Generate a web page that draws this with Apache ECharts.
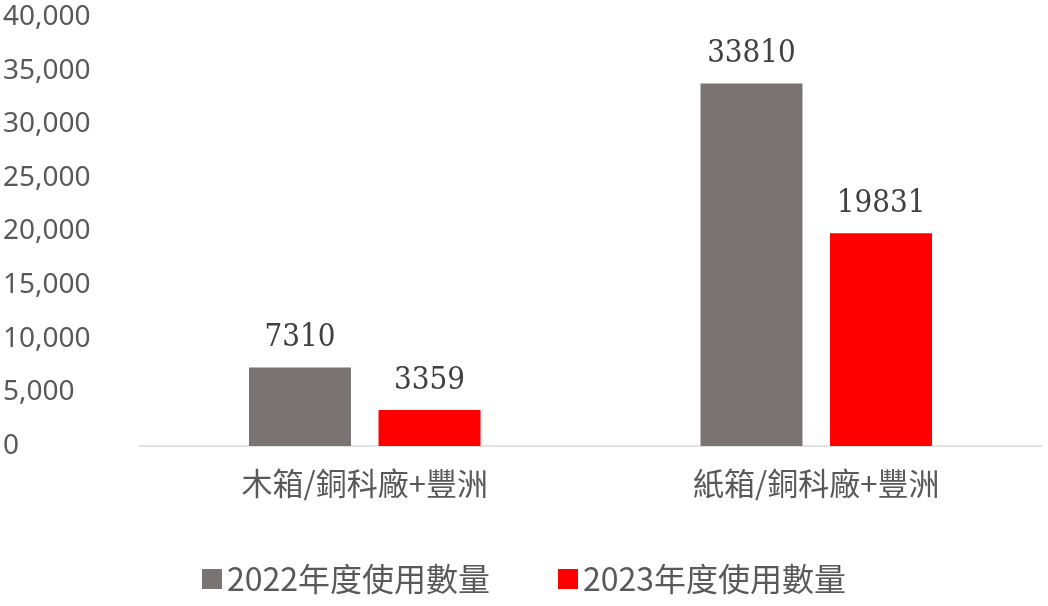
<!DOCTYPE html>
<html><head><meta charset="utf-8">
<script src="https://cdn.jsdelivr.net/npm/echarts@6/dist/echarts.min.js"></script>
<style>html,body{margin:0;padding:0;background:#fff}#c{width:1048px;height:606px}</style>
</head><body><div id="c"></div>
<script>
var categories = ['木箱/銅科廠+豐洲', '紙箱/銅科廠+豐洲'];
var seriesNames = ['2022年度使用數量', '2023年度使用數量'];
var values2022 = [7310, 33810];
var values2023 = [3359, 19831];
var chart = echarts.init(document.getElementById('c'));
var lbl = {show:true, position:'top', distance:14, color:'#404040', fontSize:31, fontFamily:'DejaVu Serif Condensed, Liberation Serif, serif'};
chart.setOption({
  animation:false,
  grid:{left:136, right:6, top:17, bottom:160},
  legend:{bottom:6, left:'center', itemWidth:20, itemHeight:20, itemGap:68, icon:'rect',
    textStyle:{fontSize:32, color:'#595959', fontFamily:'Noto Sans CJK TC'}},
  xAxis:{type:'category', data:categories,
    axisLine:{lineStyle:{color:'#d9d9d9', width:1.5}}, axisTick:{show:false},
    axisLabel:{fontSize:31, color:'#595959', margin:22, fontFamily:'Noto Sans CJK TC'}},
  yAxis:{type:'value', min:0, max:40000, interval:5000,
    splitLine:{show:false}, axisLine:{show:false}, axisTick:{show:false},
    axisLabel:{fontSize:28, color:'#595959', align:'left', margin:136, fontFamily:'Noto Sans'}},
  series:[
    {name:seriesNames[0], type:'bar', data:values2022, barWidth:102, barGap:'27%', itemStyle:{color:'#7a7373'}, label:lbl},
    {name:seriesNames[1], type:'bar', data:values2023, barWidth:102, itemStyle:{color:'#ff0000'}, label:lbl}
  ]
});
</script></body></html>
